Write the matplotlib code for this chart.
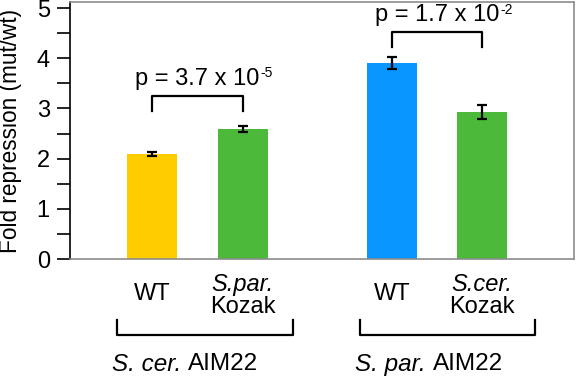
import numpy as np
import matplotlib.pyplot as plt
from matplotlib.ticker import MultipleLocator

plt.rcParams['font.family'] = ['Liberation Sans', 'DejaVu Sans']

# bar data
positions = [0, 1, 2.64, 3.63]
values = [2.09, 2.59, 3.91, 2.92]
errors = [0.04, 0.05, 0.12, 0.14]
colors = ['#ffcc00', '#4cb93a', '#0a96ff', '#4cb93a']

# labels under bars
top_labels = ['WT', 'S.par.', 'WT', 'S.cer.']
group_names = [('S. cer.', 'AIM22'), ('S. par.', 'AIM22')]
p_main = ['p = 3.7 x 10', 'p = 1.7 x 10']
p_exp = ['-5', '-2']

fs = 17

fig = plt.figure(figsize=(5.76, 3.79), dpi=100)
ax = fig.add_axes([70/576, 1 - 259/379, 504/576, 257/379])

ax.bar(positions, values, width=0.55, color=colors)
ax.errorbar(positions, values, yerr=errors, fmt='none', ecolor='black',
            elinewidth=1.6, capsize=3.5, capthick=1.6)

ax.set_xlim(-0.90, 4.64)
ax.set_ylim(0, 5.12)
ax.yaxis.set_major_locator(MultipleLocator(1))
ax.yaxis.set_minor_locator(MultipleLocator(0.5))
ax.tick_params(axis='y', which='both', length=9.5, width=1.2, labelsize=fs, pad=5)
ax.set_xticks([])
for side in ['top', 'right', 'bottom']:
    ax.spines[side].set_color('#8c8c8c')
    ax.spines[side].set_linewidth(1.2)
ax.spines['left'].set_linewidth(1.2)
fig.text(11/576, 1 - 131/379, 'Fold repression (mut/wt)', rotation=90,
         ha='center', va='center', fontsize=16.3)

# significance brackets
brackets = [(positions[0], positions[1], 3.25, 2.95), (positions[2], positions[3], 4.52, 4.22)]
for (x1, x2, ytop, ylow), pm, pe in zip(brackets, p_main, p_exp):
    ax.plot([x1, x1, x2, x2], [ylow, ytop, ytop, ylow], color='black', lw=1.6)
    t = ax.text((x1 + x2) / 2, ytop + 0.22, pm, ha='center', va='baseline', fontsize=fs)
    ax.annotate(pe, xycoords=t, xy=(1, 1), xytext=(0.5, 1), textcoords='offset points',
                ha='left', va='top', fontsize=10)

# labels below axis
for x, lab in zip(positions, top_labels):
    if lab == 'WT':
        ax.text(x, -0.69, lab, ha='center', va='center', fontsize=fs, clip_on=False)
    else:
        ax.text(x, -0.50, lab, ha='center', va='center', fontsize=fs,
                style='italic', clip_on=False)
        ax.text(x, -0.96, 'Kozak', ha='center', va='center', fontsize=fs, clip_on=False)

group_spans = [(-0.385, 1.55), (2.286, 4.21)]
for (x1, x2), (sp, gene) in zip(group_spans, group_names):
    ax.plot([x1, x1, x2, x2], [-1.22, -1.51, -1.51, -1.22], color='black',
            lw=1.6, clip_on=False)
    t = ax.text(x1 - 0.05, -2.10, sp + ' ', ha='left', va='center', fontsize=17.5,
                style='italic', clip_on=False)
    ax.annotate(gene, xycoords=t, xy=(1, 0.5), va='center', ha='left',
                fontsize=17.5, annotation_clip=False)

fig.savefig('out.png', dpi=100)
